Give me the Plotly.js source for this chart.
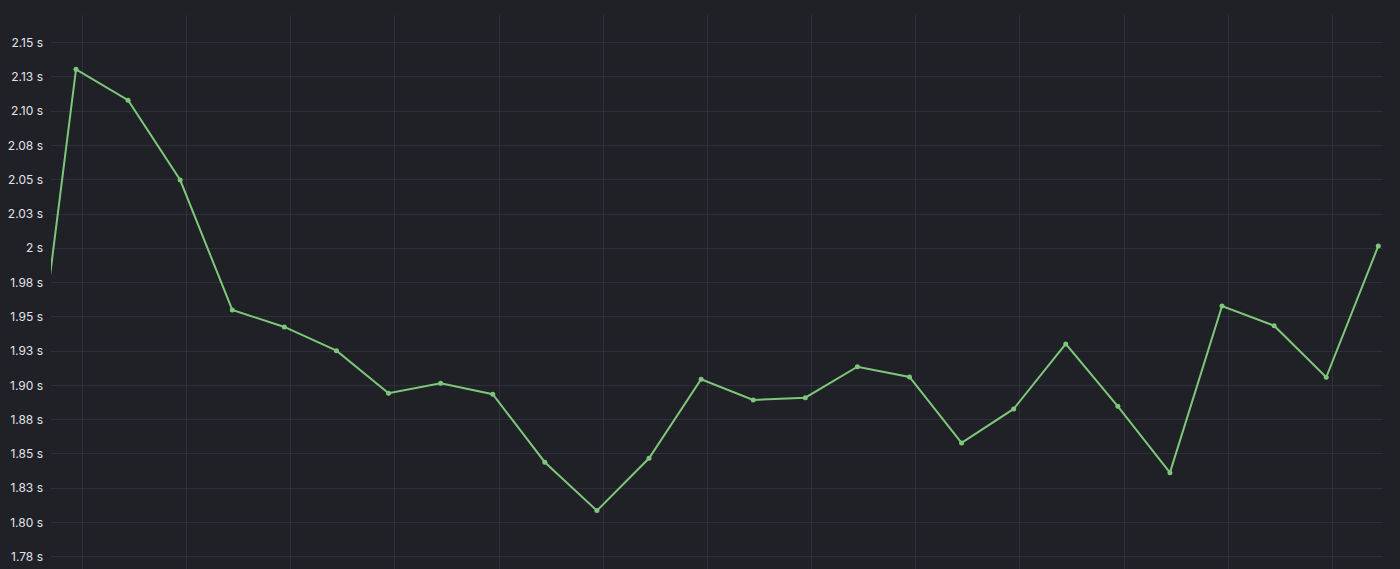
<!DOCTYPE html>
<html>
<head>
<meta charset="utf-8">
<script src="https://cdn.plot.ly/plotly-3.0.1.min.js"></script>
<style>
  html, body { margin: 0; padding: 0; background: #1f2127; }
  #chart { width: 1400px; height: 569px; }
</style>
</head>
<body>
<div id="chart"></div>
<script>
// Sample index (time step) and duration in seconds
const steps = [-1, 0, 1, 2, 3, 4, 5, 6, 7, 8, 9, 10, 11, 12, 13, 14, 15, 16, 17, 18, 19, 20, 21, 22, 23, 24, 25];
const durations = [1.829, 2.1306, 2.1080, 2.0498, 1.9550, 1.9426, 1.9253, 1.8942, 1.9015, 1.8935,
  1.8439, 1.8086, 1.8468, 1.9044, 1.8893, 1.8910, 1.9136, 1.9061, 1.8580, 1.8828,
  1.9302, 1.8847, 1.8363, 1.9579, 1.9435, 1.9059, 2.0017];
const yTickVals = [2.15, 2.125, 2.10, 2.075, 2.05, 2.025, 2.0, 1.975, 1.95, 1.925, 1.90, 1.875, 1.85, 1.825, 1.80, 1.775];
const yTickText = ["2.15 s", "2.13 s", "2.10 s", "2.08 s", "2.05 s", "2.03 s", "2 s", "1.98 s", "1.95 s", "1.93 s", "1.90 s", "1.88 s", "1.85 s", "1.83 s", "1.80 s", "1.78 s"];

const trace = {
  x: steps,
  y: durations,
  type: 'scatter',
  mode: 'lines+markers',
  line: { color: '#7ec77a', width: 2 },
  marker: { color: '#7ec77a', size: 5 },
  hoverinfo: 'skip'
};

const layout = {
  width: 1400,
  height: 569,
  margin: { l: 51, r: 17, t: 15, b: 0, pad: 0 },
  paper_bgcolor: '#1f2127',
  plot_bgcolor: '#1f2127',
  showlegend: false,
  font: { family: 'Inter, "Noto Sans", sans-serif', size: 12, color: '#ccccdc' },
  xaxis: {
    range: [-0.480, 25.09],
    showticklabels: false,
    ticks: '',
    tick0: 0.121,
    dtick: 2,
    showgrid: true,
    gridcolor: 'rgba(204,204,220,0.09)',
    gridwidth: 1,
    zeroline: false,
    showline: false,
    fixedrange: true
  },
  yaxis: {
    range: [1.766, 2.1702],
    tickmode: 'array',
    tickvals: yTickVals,
    ticktext: yTickText,
    ticks: '',
    ticklabelstandoff: 7,
    showgrid: true,
    gridcolor: 'rgba(204,204,220,0.09)',
    gridwidth: 1,
    zeroline: false,
    showline: false,
    fixedrange: true,
    tickfont: { size: 12, color: '#e2e3e8' }
  }
};

Plotly.newPlot('chart', [trace], layout, { displayModeBar: false, staticPlot: true });
</script>
</body>
</html>
